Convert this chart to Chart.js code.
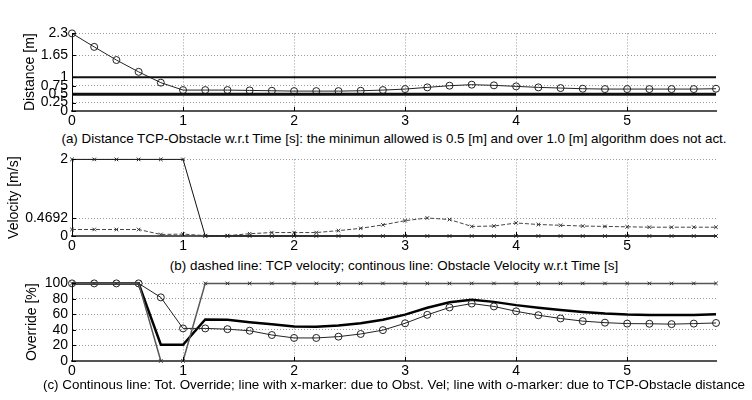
<!DOCTYPE html>
<html>
<head>
<meta charset="utf-8">
<script src="https://cdn.jsdelivr.net/npm/chart.js@4/dist/chart.umd.min.js"></script>
<style>
body { margin: 0; background: #fff; width: 752px; height: 400px; position: relative; overflow: hidden; font-family: "Liberation Sans", Arial, sans-serif; }
canvas { position: absolute; left: 0; }
.cap { position: absolute; left: 394px; transform: translateX(-50%); font-size: 13.4px; line-height: 16px; white-space: nowrap; color: #000; }
</style>
</head>
<body>
<canvas id="dist-chart" width="752" height="110" style="top:21px"></canvas>
<div class="cap" style="top:131px">(a) Distance TCP-Obstacle w.r.t Time [s]: the minimun allowed is 0.5 [m] and over 1.0 [m] algorithm does not act.</div>
<canvas id="vel-chart" width="752" height="109" style="top:147px"></canvas>
<div class="cap" style="top:258px">(b) dashed line: TCP velocity; continous line: Obstacle Velocity w.r.t Time [s]</div>
<canvas id="ovr-chart" width="752" height="110" style="top:271px"></canvas>
<div class="cap" style="top:377px">(c) Continous line: Tot. Override; line with x-marker: due to Obst. Vel; line with o-marker: due to TCP-Obstacle distance</div>
<script>
// Tiempo [s]
const timeS = [0, 0.2, 0.4, 0.6, 0.8, 1.0, 1.2, 1.4, 1.6, 1.8, 2.0, 2.2, 2.4, 2.6, 2.8,
  3.0, 3.2, 3.4, 3.6, 3.8, 4.0, 4.2, 4.4, 4.6, 4.8, 5.0, 5.2, 5.4, 5.6, 5.8];

// (a) distancia TCP-obstaculo [m]
const distanceM = [2.30, 1.90, 1.51, 1.16, 0.84, 0.62, 0.62, 0.62, 0.61, 0.60, 0.59, 0.59, 0.59, 0.60, 0.62,
  0.65, 0.70, 0.75, 0.78, 0.76, 0.73, 0.70, 0.68, 0.66, 0.65, 0.65, 0.65, 0.65, 0.65, 0.66];
const distUpper = 1.0;
const distLower = 0.5;
const distTicks = [0, 0.25, 0.5, 0.75, 1, 1.65, 2.3];

// (b) velocidades [m/s]
const obstacleVel = [2, 2, 2, 2, 2, 2, 0, 0, 0, 0, 0, 0, 0, 0, 0,
  0, 0, 0, 0, 0, 0, 0, 0, 0, 0, 0, 0, 0, 0, 0];
const tcpVel = [0.17, 0.17, 0.17, 0.17, 0.04, 0.05, 0.01, 0.01, 0.06, 0.09, 0.09, 0.09, 0.14, 0.20, 0.29,
  0.40, 0.47, 0.43, 0.25, 0.26, 0.34, 0.30, 0.28, 0.26, 0.25, 0.24, 0.23, 0.23, 0.23, 0.23];
const velTicks = [0, 0.4692, 2];

// (c) override [%]
const overrideVel = [100, 100, 100, 100, 0, 0, 100, 100, 100, 100, 100, 100, 100, 100, 100,
  100, 100, 100, 100, 100, 100, 100, 100, 100, 100, 100, 100, 100, 100, 100];
const overrideDist = [100, 100, 100, 100, 82, 42, 42, 41, 39, 33.5, 29.7, 29.7, 31.4, 34.8, 39.8,
  48.6, 59.5, 69, 74, 70.3, 64, 59, 54.8, 51.4, 49.4, 48.2, 48, 47.5, 48.2, 49];
const overrideTotal = [100, 100, 100, 100, 21, 21, 53.6, 53, 50, 47.5, 44.5, 44, 45.6, 48.6, 53.2,
  59.8, 68.6, 75.8, 79, 76.2, 72, 68.6, 65.7, 63.2, 61.1, 59.8, 59.4, 59.4, 59.4, 60.2];
const ovrTicks = [0, 20, 40, 60, 80, 100];

const timeTicks = [0, 1, 2, 3, 4, 5];

Chart.defaults.font.family = '"Liberation Sans", Arial, sans-serif';
Chart.defaults.font.size = 14;
Chart.defaults.color = '#000';

const pts = (ys) => ys.map((y, i) => ({ x: timeS[i], y }));
const flat = (y) => [{ x: timeS[0], y }, { x: timeS[timeS.length - 1], y }];

// Marcas de los ejes hacia adentro, como en MATLAB
const innerTicks = {
  id: 'innerTicks',
  afterDraw(chart) {
    const { ctx, chartArea, scales } = chart;
    ctx.save();
    ctx.strokeStyle = '#000';
    ctx.lineWidth = 1;
    ctx.beginPath();
    scales.y.ticks.forEach((t) => {
      const py = Math.round(scales.y.getPixelForValue(t.value)) + 0.5;
      ctx.moveTo(chartArea.left, py);
      ctx.lineTo(chartArea.left + 4, py);
    });
    scales.x.ticks.forEach((t) => {
      const px = Math.round(scales.x.getPixelForValue(t.value)) + 0.5;
      ctx.moveTo(px, chartArea.bottom);
      ctx.lineTo(px, chartArea.bottom - 4);
    });
    ctx.stroke();
    ctx.restore();
  }
};

const makeChart = (id, datasets, yMax, yTicks, yTitle, titlePad) => new Chart(document.getElementById(id), {
  type: 'line',
  data: { datasets },
  plugins: [innerTicks],
  options: {
    responsive: false,
    animation: false,
    layout: { padding: { top: 10, right: 36, bottom: 0, left: 0 } },
    plugins: { legend: { display: false }, tooltip: { enabled: false } },
    elements: { line: { tension: 0 } },
    scales: {
      x: {
        type: 'linear', min: 0, max: 5.8,
        afterFit: (s) => { s.height = 20; },
        afterBuildTicks: (s) => { s.ticks = timeTicks.map((v) => ({ value: v })); },
        ticks: { padding: 2, autoSkip: false, callback: (v) => String(v), maxRotation: 0 },
        grid: { color: '#9a9a9a', drawTicks: false },
        border: { color: '#555', width: 2, dash: [1, 2] }
      },
      y: {
        min: 0, max: yMax,
        afterFit: (s) => { s.width = 72; },
        afterBuildTicks: (s) => { s.ticks = yTicks.map((v) => ({ value: v })); },
        ticks: { padding: 4, autoSkip: false, callback: (v) => String(v) },
        grid: { color: '#9a9a9a', drawTicks: false },
        border: { color: '#000', width: 1, dash: [1, 2] },
        title: { display: true, text: yTitle, font: { size: 14 }, padding: { top: titlePad, bottom: 0 } }
      }
    }
  }
});

makeChart('dist-chart', [
  { data: flat(distUpper), borderColor: '#111', borderWidth: 2, pointRadius: 0, clip: false },
  { data: flat(distLower), borderColor: '#111', borderWidth: 3, pointRadius: 0, clip: false },
  { data: pts(distanceM), borderColor: '#222', borderWidth: 1, pointStyle: 'circle', pointRadius: 3.5,
    pointBorderColor: '#222', pointBackgroundColor: 'rgba(0,0,0,0)', pointBorderWidth: 1, clip: false }
], 2.3, distTicks, 'Distance [m]', 22);

makeChart('vel-chart', [
  { data: pts(obstacleVel), borderColor: '#111', borderWidth: 1, pointStyle: 'crossRot', pointRadius: 2.5,
    pointBorderColor: '#222', pointBorderWidth: 1, clip: false },
  { data: pts(tcpVel), borderColor: '#444', borderWidth: 1, borderDash: [4, 2], pointStyle: 'crossRot', pointRadius: 2.5,
    pointBorderColor: '#333', pointBorderWidth: 1, clip: false }
], 2, velTicks, 'Velocity [m/s]', 6);

makeChart('ovr-chart', [
  { data: pts(overrideVel), borderColor: '#555', borderWidth: 1.5, pointStyle: 'crossRot', pointRadius: 2.5,
    pointBorderColor: '#333', pointBorderWidth: 1, clip: false },
  { data: pts(overrideDist), borderColor: '#222', borderWidth: 1, pointStyle: 'circle', pointRadius: 3.5,
    pointBorderColor: '#222', pointBackgroundColor: 'rgba(0,0,0,0)', pointBorderWidth: 1, clip: false },
  { data: pts(overrideTotal), borderColor: '#000', borderWidth: 2.5, pointRadius: 0, clip: false }
], 100, ovrTicks, 'Override [%]', 24);
</script>
</body>
</html>
